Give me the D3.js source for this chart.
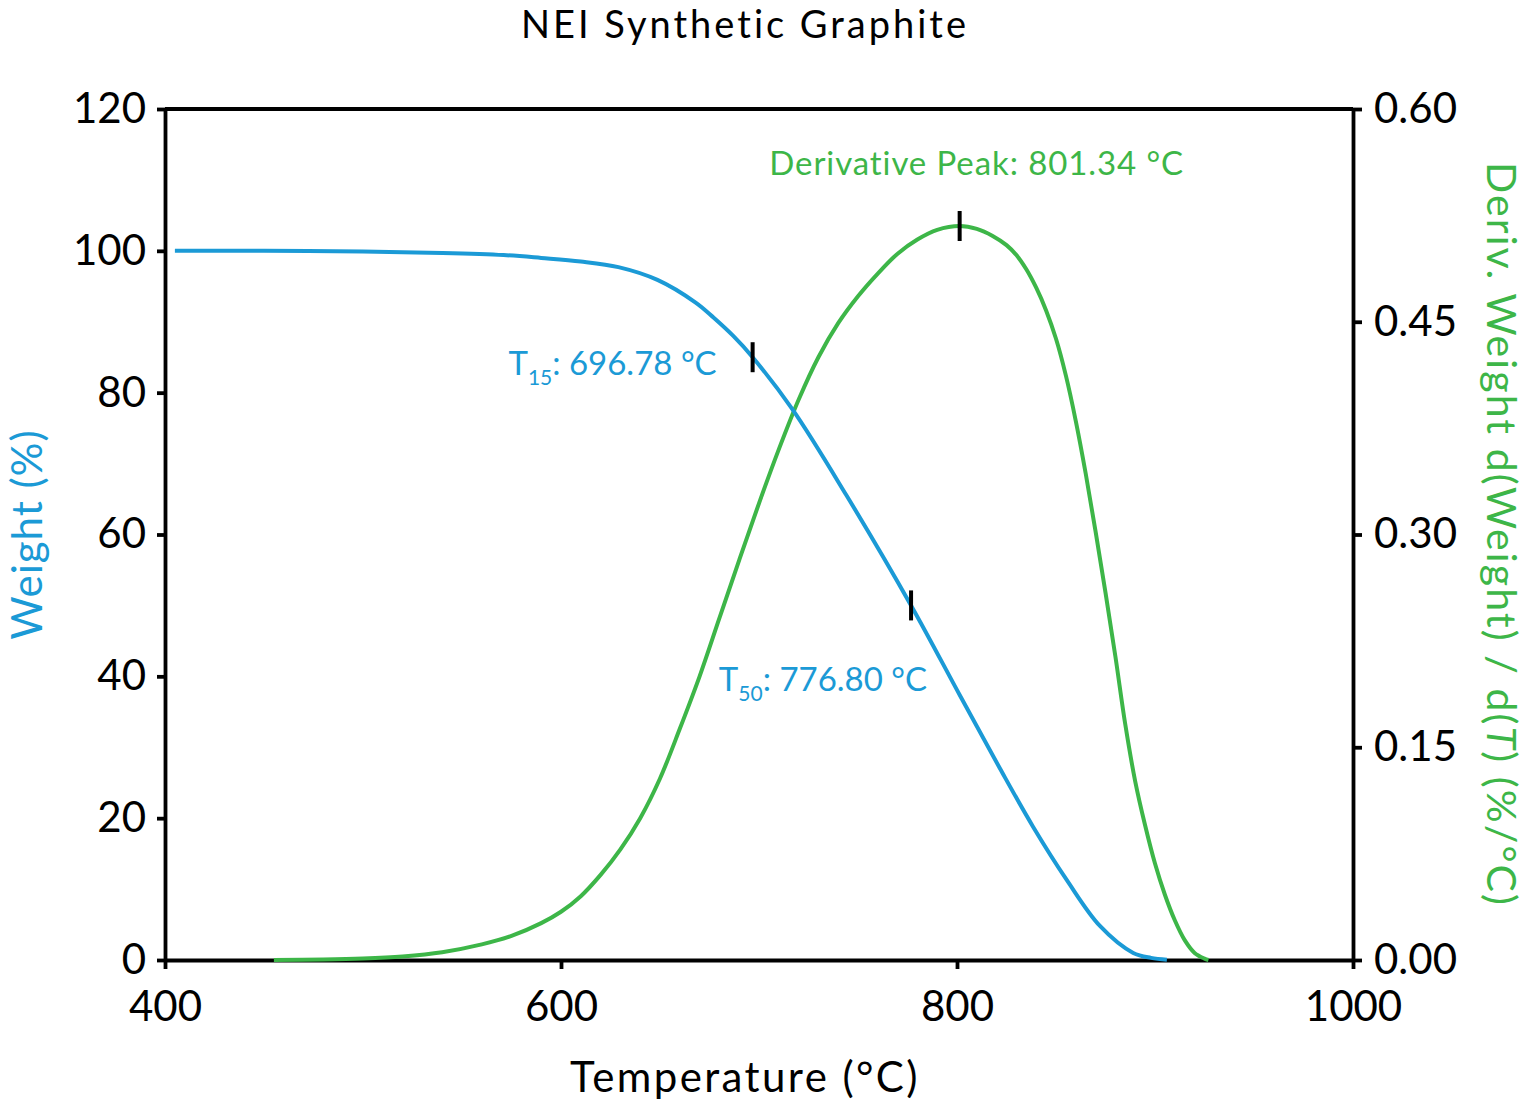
<!DOCTYPE html>
<html>
<head>
<meta charset="utf-8">
<script src="https://cdn.jsdelivr.net/npm/d3@7"></script>
<style>
  body { margin: 0; background: #fff; }
  svg { display: block; font-family: Lato, "Noto Sans", sans-serif; }
</style>
</head>
<body>
<svg id="chart" width="1529" height="1104"></svg>
<script>
// weight curve (temperature °C, weight %)
const weightTemp = [405, 450, 500, 540, 571, 590, 610, 629, 648.7, 668, 677, 687, 696.78, 717, 744, 776.8, 801.5, 821.7, 838.4, 855.4, 872.2, 889, 898, 906];
const weightVal  = [100.0, 100.0, 99.9, 99.7, 99.4, 99.0, 98.5, 97.7, 95.9, 92.7, 90.6, 88.0, 85.0, 77.6, 65.6, 50.0, 37.3, 27.0, 18.8, 11.3, 4.8, 1.0, 0.3, 0.05];

// derivative curve (temperature °C, %/°C)
const derivTemp = [455, 480, 500, 520, 540, 560, 575, 590, 600, 610, 620, 630, 640, 650, 660, 670, 680, 690, 700, 710, 720, 730, 740, 750, 760, 770, 780, 790, 801.34, 810, 818, 825, 830, 835, 840, 845, 850, 855, 860, 865, 870, 875, 880, 885, 890, 895, 900, 905, 910, 915, 920, 925, 927];
const derivVal  = [0, 0.0003, 0.001, 0.0025, 0.0055, 0.011, 0.017, 0.026, 0.034, 0.045, 0.060, 0.078, 0.100, 0.128, 0.163, 0.200, 0.241, 0.282, 0.322, 0.360, 0.395, 0.425, 0.449, 0.468, 0.484, 0.498, 0.508, 0.5148, 0.5175, 0.5155, 0.5105, 0.504, 0.497, 0.487, 0.474, 0.458, 0.438, 0.412, 0.380, 0.343, 0.302, 0.259, 0.214, 0.166, 0.126, 0.095, 0.068, 0.046, 0.028, 0.014, 0.005, 0.001, 0];

const xTicks = [400, 600, 800, 1000];
const weightTicks = [0, 20, 40, 60, 80, 100, 120];
const derivTicks = [0, 0.15, 0.30, 0.45, 0.60];

// markers
const t15 = 696.78, t15Weight = 85;
const t50 = 776.80, t50Weight = 50;
const peakT = 801.34, peakVal = 0.5175;

const blue = "#1b9ad6";
const green = "#3db648";

const svg = d3.select("#chart");
const margin = {left: 165, right: 176, top: 109, bottom: 144};
const width = 1529, height = 1104;

const x = d3.scaleLinear().domain([400, 1000]).range([margin.left, width - margin.right]);
const yW = d3.scaleLinear().domain([0, 120]).range([height - margin.bottom, margin.top]);
const yD = d3.scaleLinear().domain([0, 0.6]).range([height - margin.bottom, margin.top]);

// axes
const styleAxis = g => {
  g.selectAll("path, line").attr("stroke", "#000").attr("stroke-width", 3.8);
  g.selectAll("text").attr("fill", "#000").style("font-size", "42px").style("font-family", "Lato, sans-serif");
};

svg.append("g")
  .attr("transform", "translate(0," + yW(0) + ")")
  .call(d3.axisBottom(x).tickValues(xTicks).tickFormat(d3.format("d")).tickSize(9).tickSizeOuter(0).tickPadding(22))
  .call(styleAxis);

svg.append("g")
  .attr("transform", "translate(" + x(400) + ",0)")
  .call(d3.axisLeft(yW).tickValues(weightTicks).tickSize(8).tickSizeOuter(0).tickPadding(11))
  .call(styleAxis);

svg.append("g")
  .attr("transform", "translate(" + x(1000) + ",0)")
  .call(d3.axisRight(yD).tickValues(derivTicks).tickFormat(d3.format(".2f")).tickSize(9).tickSizeOuter(0).tickPadding(12))
  .call(styleAxis);

// top frame line
svg.append("line")
  .attr("x1", x(400)).attr("x2", x(1000))
  .attr("y1", yW(120)).attr("y2", yW(120))
  .attr("stroke", "#000").attr("stroke-width", 3.8);

// curves
const weightData = weightTemp.map((t, i) => [t, weightVal[i]]);
const derivData = derivTemp.map((t, i) => [t, derivVal[i]]);

const derivLine = d3.line().x(d => x(d[0])).y(d => yD(d[1])).curve(d3.curveCatmullRom.alpha(0.5));
const weightLine = d3.line().x(d => x(d[0])).y(d => yW(d[1])).curve(d3.curveCatmullRom.alpha(0.5));

svg.append("path")
  .datum(derivData)
  .attr("fill", "none").attr("stroke", green).attr("stroke-width", 4)
  .attr("d", derivLine);

svg.append("path")
  .datum(weightData)
  .attr("fill", "none").attr("stroke", blue).attr("stroke-width", 4)
  .attr("d", weightLine);

// marker ticks
const markers = [[x(t15), yW(t15Weight)], [x(t50), yW(t50Weight)], [x(peakT), yD(peakVal)]];
svg.selectAll(".marker").data(markers).enter().append("line")
  .attr("class", "marker")
  .attr("x1", d => d[0]).attr("x2", d => d[0])
  .attr("y1", d => d[1] - 15).attr("y2", d => d[1] + 15)
  .attr("stroke", "#000").attr("stroke-width", 4);

// annotations
const ann = (px, py, anchor, color, ls) => svg.append("text")
  .attr("x", px).attr("y", py).attr("text-anchor", anchor)
  .attr("fill", color).style("font-size", "33px").style("letter-spacing", ls);

const a15 = ann(x(t15) - 36, yW(t15Weight) + 18, "end", blue, "0px");
a15.append("tspan").text("T");
a15.append("tspan").attr("dy", 10).style("font-size", "21px").text("15");
a15.append("tspan").attr("dy", -10).text(": 696.78 °C");

const a50 = ann(x(t50) + 16, yW(t50Weight) + 86, "end", blue, "0px");
a50.append("tspan").text("T");
a50.append("tspan").attr("dy", 10).style("font-size", "21px").text("50");
a50.append("tspan").attr("dy", -10).text(": 776.80 °C");

ann(x(peakT) + 17, yD(peakVal) - 51, "middle", green, "0.9px").text("Derivative Peak: 801.34 °C");

// titles
svg.append("text")
  .attr("x", 745).attr("y", 38).attr("text-anchor", "middle")
  .style("font-size", "38px").style("letter-spacing", "3px").attr("fill", "#000")
  .text("NEI Synthetic Graphite");

svg.append("text")
  .attr("x", 745).attr("y", 1092).attr("text-anchor", "middle")
  .style("font-size", "42px").style("letter-spacing", "2.4px").attr("fill", "#000")
  .text("Temperature (°C)");

svg.append("text")
  .attr("transform", "translate(42," + ((yW(0) + yW(120)) / 2) + ") rotate(-90)")
  .attr("text-anchor", "middle")
  .style("font-size", "42px").style("letter-spacing", "1px").attr("fill", blue)
  .text("Weight (%)");

const rt = svg.append("text")
  .attr("transform", "translate(1487," + ((yD(0) + yD(0.6)) / 2) + ") rotate(90)")
  .attr("text-anchor", "middle")
  .style("font-size", "41px").style("letter-spacing", "2.1px").attr("fill", green);
rt.append("tspan").text("Deriv. Weight d(Weight) / d(");
rt.append("tspan").style("font-style", "italic").text("T");
rt.append("tspan").text(") (%/°C)");
</script>
</body>
</html>
